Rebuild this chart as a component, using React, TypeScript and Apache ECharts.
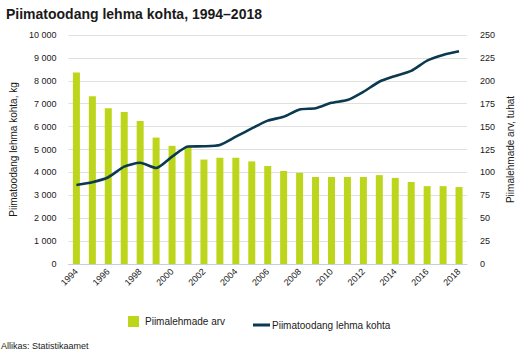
import React, { useEffect, useRef } from "react";
import * as echarts from "echarts";

const years = [
  "1994", "1995", "1996", "1997", "1998", "1999", "2000", "2001", "2002", "2003",
  "2004", "2005", "2006", "2007", "2008", "2009", "2010", "2011", "2012", "2013",
  "2014", "2015", "2016", "2017", "2018",
];
// Piimalehmade arv, tuhat
const cows = [
  209, 183, 170, 166, 156, 138, 129, 128, 114, 116,
  116, 112, 107, 101.5, 99.5, 95, 95, 95, 95, 97,
  94, 89.5, 85, 85, 84,
];
// Piimatoodang lehma kohta, kg
const yieldKg = [
  3450, 3570, 3790, 4250, 4420, 4190, 4690, 5130, 5140, 5200,
  5560, 5920, 6260, 6430, 6750, 6800, 7040, 7160, 7520, 7960,
  8210, 8430, 8880, 9130, 9290,
];

const FONT = "'Liberation Sans', Arial, sans-serif";

export default function App() {
  const ref = useRef<HTMLDivElement>(null);
  useEffect(() => {
    document.body.style.margin = "0";
    const chart = echarts.init(ref.current!, null, { renderer: "svg" });
    chart.setOption({
      animation: false,
      textStyle: { fontFamily: FONT },
      title: {
        text: "Piimatoodang lehma kohta, 1994–2018",
        left: 1,
        top: 2,
        textStyle: { fontSize: 14, fontWeight: "bold", color: "#1a1a1a", fontFamily: FONT },
      },
      grid: { left: 64, right: 65, top: 35, bottom: 91 },
      legend: [
        {
          left: 123,
          top: 311,
          itemWidth: 11,
          itemHeight: 11,
          itemGap: 0,
          data: [{ name: "Piimalehmade arv", icon: "rect" }],
          textStyle: { fontSize: 10, color: "#1a1a1a", fontFamily: FONT, padding: [0, 0, 0, 1] },
        },
        {
          left: 248,
          top: 315,
          itemWidth: 17,
          itemHeight: 3,
          data: [{ name: "Piimatoodang lehma kohta", icon: "rect" }],
          textStyle: { fontSize: 10, color: "#1a1a1a", fontFamily: FONT, padding: [0, 0, 0, -3] },
        },
      ],
      graphic: [
        {
          type: "text",
          left: 1,
          top: 341,
          style: { text: "Allikas: Statistikaamet", fontSize: 9, fill: "#1a1a1a", fontFamily: FONT },
        },
      ],
      xAxis: {
        type: "category",
        data: years,
        boundaryGap: true,
        axisLine: { lineStyle: { color: "#c4d0e2", width: 1 } },
        axisTick: { alignWithLabel: true, interval: 1, length: 4, lineStyle: { color: "#c4d0e2" } },
        axisLabel: { interval: 1, rotate: 45, fontSize: 9, color: "#1a1a1a", margin: 6, fontFamily: FONT },
      },
      yAxis: [
        {
          type: "value",
          min: 0,
          max: 10000,
          interval: 1000,
          name: "Piimatoodang lehma kohta, kg",
          nameLocation: "middle",
          nameGap: 45,
          nameTextStyle: { fontSize: 10, color: "#1a1a1a", fontFamily: FONT },
          axisLine: { show: false },
          axisTick: { show: false },
          axisLabel: {
            fontSize: 9,
            color: "#1a1a1a",
            margin: 12,
            fontFamily: FONT,
            formatter: (v: number) => String(v).replace(/\B(?=(\d{3})+(?!\d))/g, " "),
          },
          splitLine: { lineStyle: { color: "#e0e0e0", width: 1 } },
        },
        {
          type: "value",
          min: 0,
          max: 250,
          interval: 25,
          name: "Piimalehmade arv, tuhat",
          nameLocation: "middle",
          nameGap: 35,
          nameTextStyle: { fontSize: 10, color: "#1a1a1a", fontFamily: FONT },
          axisLine: { show: false },
          axisTick: { show: false },
          axisLabel: { fontSize: 9, color: "#1a1a1a", margin: 13, fontFamily: FONT },
          splitLine: { show: false },
        },
      ],
      series: [
        {
          name: "Piimalehmade arv",
          type: "bar",
          yAxisIndex: 1,
          data: cows,
          barWidth: 7,
          itemStyle: { color: "#bdd51b" },
        },
        {
          name: "Piimatoodang lehma kohta",
          type: "line",
          yAxisIndex: 0,
          data: yieldKg,
          showSymbol: false,
          symbol: "none",
          smooth: 0.2,
          lineStyle: { color: "#0b3a50", width: 2.6 },
          itemStyle: { color: "#0b3a50" },
        },
      ],
    });
    return () => chart.dispose();
  }, []);
  return <div ref={ref} style={{ width: 532, height: 355 }} />;
}
